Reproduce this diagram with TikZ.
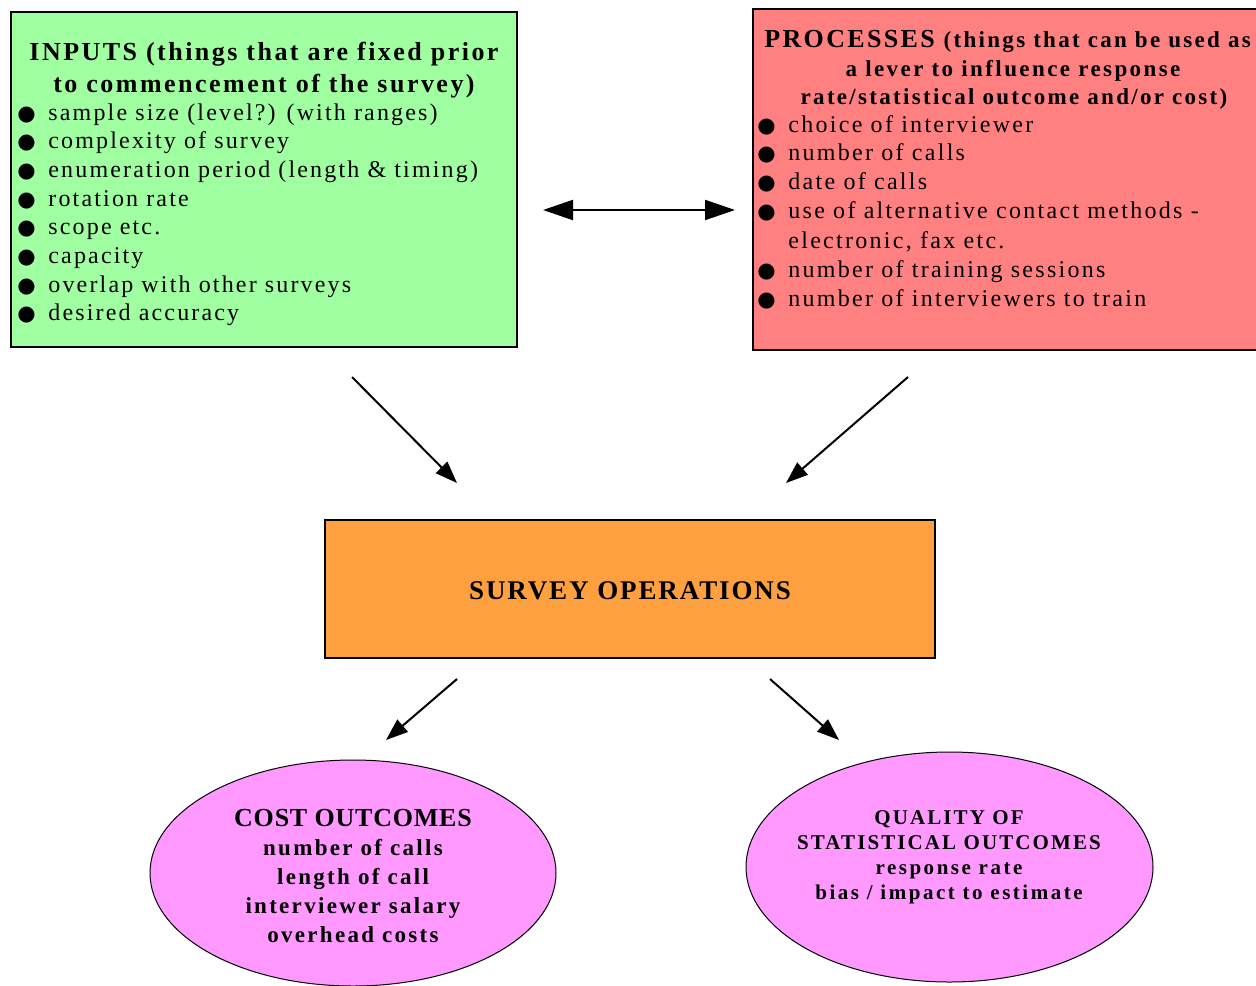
\documentclass[tikz,border=0pt]{standalone}
\usepackage{fontspec}
\setmainfont{Liberation Serif}
\newfontfamily\symf{DejaVu Sans}
\usetikzlibrary{arrows.meta,shapes.geometric}
\definecolor{ingreen}{RGB}{160,255,160}
\definecolor{procred}{RGB}{255,128,128}
\definecolor{opsorange}{RGB}{255,160,64}
\definecolor{outpink}{RGB}{255,153,255}
\newcommand\mybul{\makebox[15.5pt][l]{\symf\fontsize{10.5}{10}\selectfont ●}}
\newcommand\ls[1]{\addfontfeature{LetterSpace=#1}}
\tikzset{
  box/.style={draw=black,line width=1pt,inner sep=0pt},
  oval/.style={ellipse,draw=black,line width=0.5pt,fill=outpink,inner sep=0pt},
  item/.style={anchor=base west,inner sep=0pt,font=\fontsize{12}{14}\selectfont\ls{9}},
  pitem/.style={item,font=\fontsize{12}{14}\selectfont\ls{9.5}},
  ttl/.style={anchor=base,inner sep=0pt,font=\bfseries\fontsize{13}{15}\selectfont\ls{9.5}},
  arr/.style={line width=1pt,-{Triangle[length=11pt,width=8pt]}},
  darr/.style={line width=1pt,{Triangle[length=15pt,width=10pt]}-{Triangle[length=15pt,width=10pt]}},
}
\begin{document}
\begin{tikzpicture}[x=0.5pt,y=-0.5pt]
\useasboundingbox (0,0) rectangle (1256,985);
\clip (0,0) rectangle (1256,985);
% INPUTS
\node[box,fill=ingreen,minimum width=253pt,minimum height=167.5pt] (inputs) at (264,179.5) {};
\node[ttl] (inT1) at (264,60) {INPUTS (things that are fixed prior};
\node[ttl] (inT2) at (264,92) {to commencement of the survey)};
\foreach \t [count=\i] in {sample size (level?) (with ranges),complexity of survey,enumeration period (length \& timing),rotation rate,scope etc.,capacity,overlap with other surveys,desired accuracy}
  \node[item] (in\i) at (17,{120+28.7*(\i-1)}) {\mybul\t};
% PROCESSES
\node[box,fill=procred,minimum width=260pt,minimum height=170.5pt] (proc) at (1013,179.5) {};
\node[ttl,anchor=base west,font=\bfseries\fontsize{13}{15}\selectfont\ls{9}] (prT1) at (764,47) {PROCESSES {\fontsize{11.5}{14}\selectfont\ls{10} (things that can be used as}};
\node[ttl,font=\bfseries\fontsize{11.5}{14}\selectfont\ls{10.5}] (prT2) at (1013,76) {a lever to influence response};
\node[ttl,font=\bfseries\fontsize{11.5}{14}\selectfont\ls{10}] (prT3) at (1014,104) {rate/statistical outcome and/or cost)};
\foreach \t [count=\i] in {choice of interviewer,number of calls,date of calls,use of alternative contact methods -}
  \node[pitem] (pr\i) at (757,{132+28.8*(\i-1)}) {\mybul\t};
\node[pitem] (pr5) at (757,248) {\hspace*{15.5pt}electronic, fax etc.};
\node[pitem] (pr6) at (757,277) {\mybul number of training sessions};
\node[pitem] (pr7) at (757,306) {\mybul number of interviewers to train};
% SURVEY OPERATIONS
\node[box,fill=opsorange,minimum width=305pt,minimum height=69pt] (ops) at (630,589) {};
\node[inner sep=0pt,font=\bfseries\fontsize{13.5}{16}\selectfont\ls{7}] (opsT) at (630,591) {SURVEY OPERATIONS};
% OUTCOMES
\node[oval,minimum width=203pt,minimum height=113pt] (cost) at (353,873) {};
\node[inner sep=0pt,align=center,font=\bfseries\fontsize{11.5}{14.5}\selectfont\ls{10}] (costT) at (353,876)
  {{\fontsize{13}{14.5}\selectfont\ls{3}COST OUTCOMES}\\number of calls\\length of call\\interviewer salary\\overhead costs};
\node[oval,minimum width=203.5pt,minimum height=115pt] (qual) at (949.5,867) {};
\node[inner sep=0pt,align=center,font=\bfseries\fontsize{10.5}{12.5}\selectfont\ls{12}] (qualT) at (949,857)
  {{\fontsize{10.5}{12.5}\selectfont\ls{10}QUALITY OF}\\{\fontsize{10.5}{12.5}\selectfont\ls{10}STATISTICAL OUTCOMES}\\response rate\\bias / impact to estimate};
% connectors
\coordinate (d1) at (543,210); \coordinate (d2) at (735,210);
\coordinate (a1s) at (352,377); \coordinate (a1e) at (457,483);
\coordinate (a2s) at (908,377); \coordinate (a2e) at (786,483);
\coordinate (a3s) at (457,679); \coordinate (a3e) at (386,740);
\coordinate (a4s) at (770,679); \coordinate (a4e) at (839,740);
\draw[darr] (d1) -- (d2);
\draw[arr] (a1s) -- (a1e);
\draw[arr] (a2s) -- (a2e);
\draw[arr] (a3s) -- (a3e);
\draw[arr] (a4s) -- (a4e);
\end{tikzpicture}
\end{document}
